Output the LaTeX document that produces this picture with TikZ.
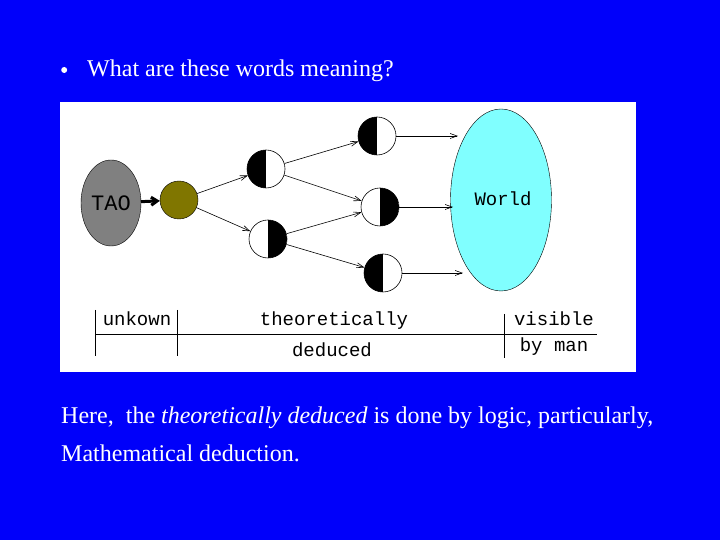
\documentclass[tikz,border=0pt]{standalone}
\usepackage{fontspec}
\setmainfont{Liberation Serif}
\newfontfamily\monof{Liberation Mono}
\usetikzlibrary{arrows.meta,shapes.geometric}
\definecolor{bgblue}{RGB}{0,0,250}
\definecolor{olivec}{RGB}{128,118,0}
\definecolor{worldc}{RGB}{128,255,255}
\definecolor{taoc}{RGB}{128,128,128}
\tikzset{
  half/.style={circle,draw=black,fill=white,minimum size=38pt,inner sep=0pt,line width=0.6pt},
  halfL/.style={half,path picture={\fill[black] (path picture bounding box.south west) rectangle (path picture bounding box.north);}},
  halfR/.style={half,path picture={\fill[black] (path picture bounding box.south) rectangle (path picture bounding box.north east);}},
  conn/.style={line width=0.6pt,-{Straight Barb[length=7pt,width=5pt]}},
  lab/.style={font=\monof\fontsize{19}{20}\selectfont,inner sep=0pt},
  body/.style={anchor=west,inner sep=0pt,font=\fontsize{24}{26}\selectfont,white}
}
\begin{document}
\begin{tikzpicture}[x=1pt,y=1pt]
\fill[bgblue] (0,0) rectangle (720,540);
\useasboundingbox (0,0) rectangle (720,540);
\fill[white] (60,168) rectangle (636,438);
% bullet line
\node[body,circle,fill=white,minimum size=6pt] (bul) at (61,470) {};
\node[body] (q) at (87,469) {What are these words meaning?};
% nodes
\node[ellipse,draw=black,fill=taoc,minimum width=60pt,minimum height=86pt,inner sep=0pt,lab,font=\monof\fontsize{22}{22}\selectfont] (tao) at (111,337) {TAO};
\node[circle,draw=black,fill=olivec,minimum size=38pt,inner sep=0pt] (ol) at (179,340) {};
\node[halfL] (h1) at (266,371) {};
\node[halfR] (h2) at (268,301) {};
\node[halfL] (h3) at (377,404) {};
\node[halfR] (h4) at (380,333) {};
\node[halfL] (h5) at (383,267) {};
\node[ellipse,draw=black,fill=worldc,minimum width=101pt,minimum height=182pt,inner sep=0pt] (w) at (501,340) {};
\node[lab,anchor=center] (wt) at (503,341) {World};
\coordinate (w1) at (458,404);
\coordinate (w2) at (453,333);
\coordinate (w3) at (463,267);
\draw[line width=3pt,-{Straight Barb[length=6pt,width=8pt]}] (tao) -- (ol);
\draw[conn] (ol) -- (h1);
\draw[conn] (ol) -- (h2);
\draw[conn] (h1) -- (h3);
\draw[conn] (h1) -- (h4);
\draw[conn] (h2) -- (h4);
\draw[conn] (h2) -- (h5);
\draw[conn] (h3) -- (w1);
\draw[conn] (h4) -- (w2);
\draw[conn] (h5) -- (w3);
% table
\coordinate (la) at (95,206);
\coordinate (lb) at (597,206);
\draw[line width=0.8pt] (la) -- (lb);
\draw[line width=0.8pt] (95,230) -- (95,184);
\draw[line width=0.8pt] (177,230) -- (177,184);
\draw[line width=0.8pt] (504,226) -- (504,182);
\node[lab] (t1) at (137,221) {unkown};
\node[lab] (t2) at (334,219) {theoretically};
\node[lab] (t3) at (332,190) {deduced};
\node[lab] (t4) at (554,221) {visible};
\node[lab] (t5) at (554,193) {by man};
% bottom text
\node[body] (b1) at (61,122) {Here,\ \ the \textit{theoretically deduced} is done by logic, particularly,};
\node[body] (b2) at (61,87) {Mathematical deduction.};
\end{tikzpicture}
\end{document}
